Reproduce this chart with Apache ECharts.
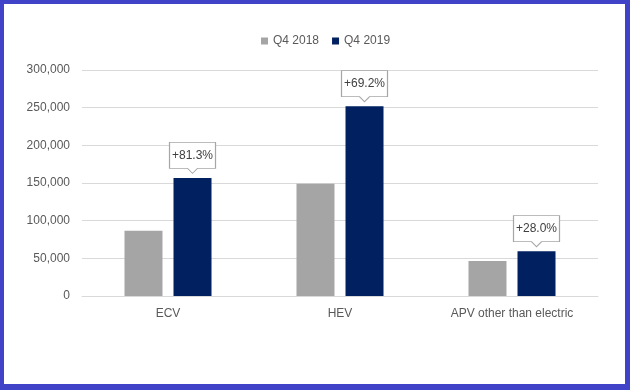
<!DOCTYPE html>
<html>
<head>
<meta charset="utf-8">
<script src="https://cdn.jsdelivr.net/npm/echarts@6/dist/echarts.min.js"></script>
<style>
html,body{margin:0;padding:0;width:630px;height:390px;background:#4043c8;overflow:hidden;}
#chart{position:absolute;left:4px;top:4px;width:621px;height:380px;background:#fff;}
</style>
</head>
<body>
<div id="chart"></div>
<script>
const categories = ['ECV', 'HEV', 'APV other than electric'];
const seriesNames = ['Q4 2018', 'Q4 2019'];
const q4_2018 = [86500, 149000, 46500];
const q4_2019 = [156800, 252000, 59500];
const growthLabels = ['+81.3%', '+69.2%', '+28.0%'];

const chart = echarts.init(document.getElementById('chart'));
const font = '"Liberation Sans", Arial, sans-serif';
const calloutPath = 'path://M0,0 L46,0 L46,26 L28,26 L23,31 L18,26 L0,26 Z';

chart.setOption({
  animation: false,
  legend: {
    top: 26,
    left: 252,
    itemWidth: 7,
    itemHeight: 7,
    itemGap: 13,
    icon: 'rect',
    textStyle: { color: '#595959', fontSize: 12, fontFamily: font },
    data: seriesNames
  },
  grid: { left: 78, right: 27, top: 66, bottom: 88 },
  xAxis: {
    type: 'category',
    data: categories,
    axisLine: { lineStyle: { color: '#d9d9d9' } },
    axisTick: { show: false },
    axisLabel: { color: '#595959', fontSize: 12, fontFamily: font, margin: 12 }
  },
  yAxis: {
    type: 'value',
    min: 0,
    max: 300000,
    interval: 50000,
    axisLine: { show: false },
    axisTick: { show: false },
    splitLine: { lineStyle: { color: '#d9d9d9' } },
    axisLabel: {
      color: '#595959', fontSize: 12, fontFamily: font, margin: 12,
      formatter: v => v.toLocaleString('en-US')
    }
  },
  series: [
    {
      name: seriesNames[0],
      type: 'bar',
      data: q4_2018,
      barWidth: 38,
      barGap: '29%',
      itemStyle: { color: '#a5a5a5' }
    },
    {
      name: seriesNames[1],
      type: 'bar',
      data: q4_2019,
      barWidth: 38,
      barGap: '29%',
      itemStyle: { color: '#002060' },
      markPoint: {
        symbol: calloutPath,
        symbolSize: [46, 31],
        symbolKeepAspect: false,
        symbolOffset: [0, -20],
        itemStyle: { color: '#fff', borderColor: '#a6a6a6', borderWidth: 1 },
        label: {
          show: true,
          position: 'inside',
          offset: [0, -2.5],
          color: '#404040',
          fontSize: 12,
          fontFamily: font
        },
        data: categories.map((c, i) => ({
          coord: [i, q4_2019[i]],
          value: growthLabels[i]
        }))
      }
    }
  ]
});
</script>
</body>
</html>
